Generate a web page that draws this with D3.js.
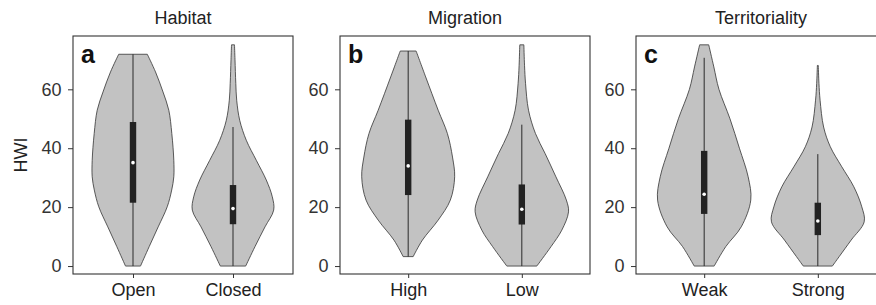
<!DOCTYPE html>
<html>
<head>
<meta charset="utf-8">
<script src="https://cdn.jsdelivr.net/npm/d3@7"></script>
<style>
  html, body { margin: 0; padding: 0; background: #fff; }
  svg { display: block; }
  text { font-family: "Liberation Sans", Arial, Helvetica, sans-serif; }
</style>
</head>
<body>
<svg id="chart" width="876" height="305"></svg>
<script>
// ---------- data ----------
const panelTitles = ["Habitat", "Migration", "Territoriality"];
const panelLetters = ["a", "b", "c"];
const categories = [["Open", "Closed"], ["High", "Low"], ["Weak", "Strong"]];
const yTicks = [0, 20, 40, 60];
const yLabel = "HWI";

// violin outlines: [HWI, half-width in category-step units]
const openDensity   = [[71.9,0.143],[65.9,0.225],[59.1,0.30],[52.9,0.358],[45.0,0.388],[35.9,0.408],[30.3,0.408],[25.8,0.387],[20.1,0.342],[13.3,0.252],[6.6,0.162],[0,0.075]];
const closedDensity = [[75.1,0.015],[70,0.02],[62,0.028],[56.3,0.037],[49.5,0.067],[42.7,0.133],[35.9,0.233],[29.2,0.333],[23.5,0.393],[19.0,0.407],[13.3,0.32],[6.6,0.22],[0,0.127]];
const highDensity   = [[73.0,0.070],[64.2,0.154],[52.9,0.264],[45.0,0.345],[37,0.39],[30.3,0.409],[22.4,0.371],[15.6,0.264],[8.8,0.125],[3.2,0.044]];
const lowDensity    = [[75.1,0.018],[68,0.024],[61.9,0.033],[52.9,0.059],[45.0,0.12],[38.2,0.205],[30.3,0.30],[22.4,0.392],[18.4,0.411],[12.2,0.352],[6.6,0.257],[0,0.132]];
const weakDensity   = [[75.1,0.040],[67.6,0.085],[60,0.13],[50,0.227],[40,0.31],[30.3,0.387],[22.4,0.41],[13.3,0.326],[6.6,0.19],[0,0.088]];
const strongDensity = [[68.1,0.004],[62,0.01],[56.3,0.02],[47.2,0.051],[40.5,0.11],[33.7,0.211],[26.9,0.317],[20.1,0.387],[15.0,0.408],[8.8,0.293],[3.2,0.188],[0,0.128]];
const densities = [[openDensity, closedDensity], [highDensity, lowDensity], [weakDensity, strongDensity]];

// boxplot statistics per panel, per category
const q1          = [[21.5, 14.2], [24.1, 14.1], [17.7, 10.5]];
const medians     = [[35.1, 19.5], [34.0, 19.3], [24.4, 15.3]];
const q3          = [[48.9, 27.5], [49.7, 27.7], [39.1, 21.5]];
const whiskerLow  = [[0, 0], [3.2, 0], [0, 0]];
const whiskerHigh = [[71.9, 47.2], [73.0, 48.0], [70.7, 38.0]];

// ---------- layout ----------
const panelRanges = [[73, 293], [340, 590], [636, 886]];
const plotTop = 36, plotBottom = 274;
const fontSize = 18;

const svg = d3.select("#chart");

const y = d3.scaleLinear().domain([-2.7, 78.1]).range([plotBottom, plotTop]);

panelTitles.forEach((title, p) => {
  const [x0, x1] = panelRanges[p];
  const x = d3.scalePoint().domain(categories[p]).range([x0, x1]).padding(0.6);
  const step = x.step();
  const g = svg.append("g");

  // violins
  categories[p].forEach((cat, i) => {
    const cx = x(cat);
    const area = d3.area()
      .curve(d3.curveCatmullRom.alpha(0.5))
      .y(d => y(d[0]))
      .x0(d => cx - d[1] * step)
      .x1(d => cx + d[1] * step);
    g.append("path")
      .attr("d", area(densities[p][i]))
      .attr("fill", "#c2c2c2")
      .attr("stroke", "#333")
      .attr("stroke-width", 0.8);

    // whisker
    g.append("line")
      .attr("x1", cx).attr("x2", cx)
      .attr("y1", y(whiskerLow[p][i])).attr("y2", y(whiskerHigh[p][i]))
      .attr("stroke", "#2a2a2a").attr("stroke-width", 1);
    // box
    g.append("rect")
      .attr("x", cx - 3.2).attr("width", 6.4)
      .attr("y", y(q3[p][i]))
      .attr("height", y(q1[p][i]) - y(q3[p][i]))
      .attr("fill", "#222");
    // median
    g.append("circle")
      .attr("cx", cx).attr("cy", y(medians[p][i]))
      .attr("r", 1.8).attr("fill", "#fff");
  });

  // frame
  g.append("rect")
    .attr("x", x0).attr("y", plotTop)
    .attr("width", x1 - x0).attr("height", plotBottom - plotTop)
    .attr("fill", "none").attr("stroke", "#333").attr("stroke-width", 1.1);

  // y axis
  const yAxis = g.append("g").attr("transform", `translate(${x0},0)`)
    .call(d3.axisLeft(y).tickValues(yTicks).tickSize(5).tickPadding(6.5));
  yAxis.select(".domain").remove();
  yAxis.selectAll("line").attr("stroke", "#333").attr("stroke-width", 1);
  yAxis.selectAll("text").attr("fill", "#333").style("font-size", fontSize + "px")
    .style("font-family", "'Liberation Sans', Arial, sans-serif");

  // x axis
  const xAxis = g.append("g").attr("transform", `translate(0,${plotBottom})`)
    .call(d3.axisBottom(x).tickSize(4).tickPadding(5.5));
  xAxis.select(".domain").remove();
  xAxis.selectAll("line").attr("stroke", "#333").attr("stroke-width", 1);
  xAxis.selectAll("text").attr("fill", "#222").style("font-size", fontSize + "px")
    .style("font-family", "'Liberation Sans', Arial, sans-serif");

  // title
  g.append("text")
    .attr("x", (x0 + x1) / 2).attr("y", 24)
    .attr("text-anchor", "middle")
    .attr("fill", "#222")
    .style("font-size", fontSize + "px")
    .text(title);

  // panel letter
  g.append("text")
    .attr("x", x0 + 8).attr("y", 63)
    .attr("fill", "#111")
    .style("font-size", "25px").style("font-weight", "bold")
    .text(panelLetters[p]);
});

// y label
svg.append("text")
  .attr("transform", `translate(27,${(plotTop + plotBottom) / 2}) rotate(-90)`)
  .attr("text-anchor", "middle")
  .attr("fill", "#222")
  .style("font-size", fontSize + "px")
  .text(yLabel);
</script>
</body>
</html>
